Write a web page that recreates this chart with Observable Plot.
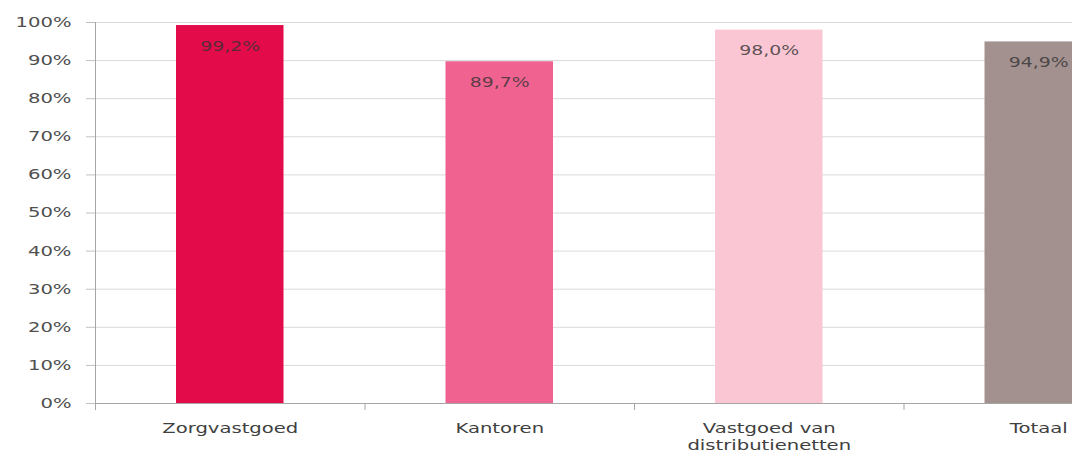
<!DOCTYPE html>
<html><head><meta charset="utf-8">
<script src="https://cdn.jsdelivr.net/npm/d3@7"></script>
<script src="https://cdn.jsdelivr.net/npm/@observablehq/plot@0.6"></script>
<style>
body{margin:0;overflow:hidden;background:#fff}
#chart svg{overflow:hidden;display:block}
</style>
</head><body><div id="chart"></div>
<script>
const categories = ["Zorgvastgoed", "Kantoren", "Vastgoed van\ndistributienetten", "Totaal"];
const values = [0.992, 0.897, 0.980, 0.949];
const colors = ["#E30B4A", "#F06290", "#FBC6D4", "#A39190"];
const yTicks = [0, 0.1, 0.2, 0.3, 0.4, 0.5, 0.6, 0.7, 0.8, 0.9, 1.0];
const bandEdges = [0, 1, 2, 3, 4];
const bandCenters = [0.5, 1.5, 2.5, 3.5];

const nl = d3.formatLocale({decimal: ",", thousands: ".", grouping: [3], currency: ["€", ""]});
const pct1 = nl.format(".1%");
const pct0 = nl.format(".0%");

const data = categories.map((c, i) => ({i, cat: c, value: values[i], color: colors[i]}));

const chart = Plot.plot({
  width: 1072,
  height: 456,
  marginLeft: 95,
  marginRight: -101,
  marginTop: 22,
  marginBottom: 53,
  style: {fontFamily: "'DejaVu Sans', Verdana, sans-serif", fontSize: "14px", color: "#404040", background: "#fff"},
  x: {domain: [0, 4], axis: null},
  y: {domain: [0, 1], axis: null},
  marks: [
    Plot.gridY(yTicks, {stroke: "#d9d9d9", strokeOpacity: 1}),
    Plot.axisY(yTicks, {tickSize: 9, tickPadding: 15, tickFormat: pct0, label: null, stroke: "#c0c0c0", fill: "#505050", fontSize: 14}),
    Plot.rectY(data, {x1: d => d.i, x2: d => d.i + 1, y: "value", fill: "color", insetLeft: 81, insetRight: 81}),
    Plot.ruleY([0], {stroke: "#a6a6a6"}),
    Plot.ruleX([0], {y1: 0, y2: 1, stroke: "#a6a6a6"}),
    Plot.axisX(bandEdges, {tickSize: 7, tickFormat: () => "", label: null, stroke: "#a6a6a6"}),
    Plot.axisX(bandCenters, {tickSize: 0, tickPadding: 17, tickFormat: d => categories[Math.floor(d)], label: null, fill: "#404040", fontSize: 14, lineHeight: 1.25}),
    Plot.text(data, {x: d => d.i + 0.5, y: "value", text: d => pct1(d.value), dy: 21, fill: "#333", fillOpacity: 0.8, fontSize: 13.5})
  ]
});
document.getElementById("chart").append(chart);

// horizontally widen glyphs to match the reference's stretched text
chart.querySelectorAll("text").forEach(t => {
  const spans = t.querySelectorAll("tspan");
  const els = spans.length ? Array.from(spans) : [t];
  els.forEach(el => {
    const len = el.getComputedTextLength();
    if (len > 0) {
      el.setAttribute("textLength", (len * 1.4).toFixed(1));
      el.setAttribute("lengthAdjust", "spacingAndGlyphs");
    }
  });
});
</script>
</body></html>
